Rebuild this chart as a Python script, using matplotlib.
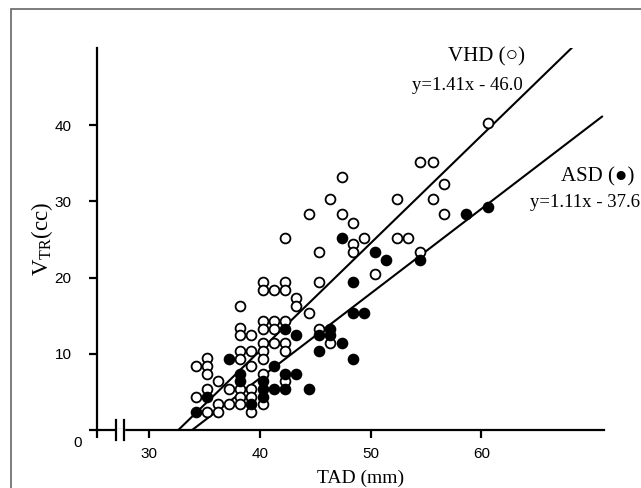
"""
 TAD vs V_TR scatter with regression lines
"""
import matplotlib
matplotlib.use('Agg')
import matplotlib.pyplot as plt
from matplotlib.patches import Rectangle
import numpy as np

# VHD (open circles)
vhd_x = [34.2, 35.2, 35.2, 35.2, 34.2, 35.2, 35.2, 36.2, 36.2, 36.2, 37.2, 37.2,
         38.2, 38.2, 38.2, 39.2, 38.2, 39.2, 38.2, 39.2, 38.2, 38.2, 38.2, 39.2,
         39.2, 39.2, 40.3, 40.3, 41.3, 42.3, 42.3, 40.3, 40.3, 41.3, 42.3, 41.3,
         40.3, 40.3, 40.3, 41.3, 42.3, 42.3, 40.3, 40.3, 42.3, 43.3, 43.3, 44.4,
         42.3, 44.4, 45.3, 45.3, 46.3, 47.4, 47.4, 48.4, 48.4, 48.4, 49.4, 50.4,
         45.3, 46.3, 52.4, 52.4, 53.4, 54.5, 54.5, 55.6, 56.6, 55.6, 56.6, 60.6]
vhd_y = [8.4, 9.4, 8.4, 7.4, 4.3, 5.4, 2.4, 6.4, 3.4, 2.3, 5.4, 3.4,
         16.3, 13.4, 12.4, 12.4, 10.4, 10.4, 9.3, 8.4, 5.4, 4.3, 3.4, 5.4,
         4.3, 2.4, 19.4, 18.3, 18.3, 19.4, 18.3, 14.3, 13.3, 14.3, 14.3, 13.3,
         11.4, 10.4, 9.3, 11.4, 11.4, 10.4, 7.4, 3.4, 6.4, 17.3, 16.3, 15.3,
         25.2, 28.3, 23.4, 19.4, 30.3, 33.2, 28.3, 27.2, 24.4, 23.4, 25.2, 20.4,
         13.3, 11.4, 30.3, 25.2, 25.2, 23.4, 35.2, 35.2, 32.2, 30.3, 28.3, 40.3]

# ASD (filled circles)
asd_x = [34.2, 35.2, 37.2, 38.2, 38.2, 39.2, 40.3, 40.3, 40.3, 41.3, 41.3, 42.3,
         42.3, 42.3, 43.3, 43.3, 44.4, 45.3, 45.3, 46.3, 46.3, 47.4, 47.4, 48.4,
         48.4, 49.4, 48.4, 50.4, 51.4, 54.5, 58.6, 60.6]
asd_y = [2.3, 4.3, 9.3, 7.4, 6.4, 3.4, 6.4, 5.4, 4.3, 8.4, 5.4, 13.3,
         7.4, 5.4, 12.4, 7.4, 5.4, 12.4, 10.4, 13.3, 12.4, 25.2, 11.4, 19.4,
         15.3, 15.3, 9.3, 23.4, 22.3, 22.3, 28.3, 29.3]

# regression fits (slope, intercept, x end)
vhd_fit = (1.41, -46.0, 68.8)
asd_fit = (1.11, -37.6, 70.9)

x_ticks = [30, 40, 50, 60]
y_ticks = [0, 10, 20, 30, 40]

SERIF = ['Liberation Serif', 'DejaVu Serif']
SANS = ['Liberation Sans', 'DejaVu Sans']

fig = plt.figure(figsize=(6.41, 4.88), dpi=100)
ax = fig.add_axes([96.7 / 641, 58 / 488, 507.3 / 641, 382 / 488])
ax.set_xlim(25.25, 71.08)
ax.set_ylim(0, 50.1)

for fit in (vhd_fit, asd_fit):
    slope, icpt, x_end = fit
    xs = np.array([-icpt / slope, x_end])
    ax.plot(xs, slope * xs + icpt, color='black', lw=1.5, zorder=2)

ax.scatter(vhd_x, vhd_y, s=50, facecolors='white', edgecolors='black',
           linewidths=1.3, zorder=3)
ax.scatter(asd_x, asd_y, s=50, facecolors='black', edgecolors='black',
           linewidths=1.3, zorder=4)

for side in ('top', 'right'):
    ax.spines[side].set_visible(False)
for side in ('left', 'bottom'):
    ax.spines[side].set_linewidth(1.6)

ax.set_xticks([25.25] + x_ticks)
ax.set_xticklabels([''] + [str(t) for t in x_ticks], family=SANS, fontsize=11)
ax.set_yticks(y_ticks)
ax.set_yticklabels([''] + [str(t) for t in y_ticks[1:]], family=SANS, fontsize=11)
ax.tick_params(direction='out', length=6, width=1.6)
ax.tick_params(axis='y', pad=12)
ax.tick_params(axis='x', pad=6)
ax.text(-0.03, -0.035, '0', transform=ax.transAxes, ha='right', va='center',
        family=SANS, fontsize=11)

# axis break
for xb in (26.95, 27.76):
    ax.plot([xb, xb], [-0.026, 0.026], color='black', lw=1.6,
            transform=ax.get_xaxis_transform(), clip_on=False, zorder=6)
ax.plot([27.08, 27.63], [0, 0], color='white', lw=2.5,
        transform=ax.get_xaxis_transform(), clip_on=False, zorder=5)

ax.set_xlabel('TAD (mm)', family=SERIF, fontsize=14, labelpad=6)
ax.xaxis.set_label_coords(0.52, -0.105)
ax.set_ylabel('V$_{\\mathregular{TR}}$(cc)', family=SERIF, fontsize=16.5, labelpad=0)

fig.text(525 / 641, 1 - 57 / 488, 'VHD (\u25cb)', ha='right', va='center',
         family=SERIF, fontsize=15)
fig.text(523 / 641, 1 - 86 / 488, 'y=1.41x - 46.0', ha='right', va='center',
         family=SERIF, fontsize=13.5)
fig.text(634 / 641, 1 - 177 / 488, 'ASD (\u25cf)', ha='right', va='center',
         family=SERIF, fontsize=15)
fig.text(640 / 641, 1 - 203 / 488, 'y=1.11x - 37.6', ha='right', va='center',
         family=SERIF, fontsize=13.5)

fig.patches.append(Rectangle((11 / 641, -0.1), 1.2, 1.1 - 9 / 488, fill=False,
                             edgecolor='#666666', lw=1.2,
                             transform=fig.transFigure, figure=fig))

fig.savefig('out.png', dpi=100)
